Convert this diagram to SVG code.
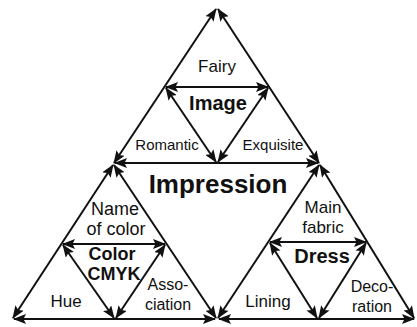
<svg xmlns="http://www.w3.org/2000/svg" width="417" height="327" viewBox="0 0 417 327">
<style>
.e{stroke:#111;stroke-width:2;fill:none;marker-start:url(#ah);marker-end:url(#ah)}
text{font-family:"Liberation Sans",Arial,sans-serif;fill:#111;text-anchor:middle}
.n{font-size:17px}
.l{font-size:18px}
.s{font-size:15px}
.m{font-size:16px}
.b{font-weight:bold;font-size:20px}
.c{font-weight:bold;font-size:18px}
.big{font-weight:bold;font-size:26px}
</style>
<defs>
<marker id="ah" viewBox="0 0 13 10" refX="12" refY="5" markerWidth="13" markerHeight="10" markerUnits="userSpaceOnUse" orient="auto-start-reverse">
<path d="M0,0 L13,5 L0,10 L2.5,5 z" fill="#111"/>
</marker>
</defs>
<rect width="417" height="327" fill="#fff"/>
<g id="connectors">
<line class="e" x1="216" y1="9" x2="114" y2="163"/>
<line class="e" x1="218" y1="9" x2="319" y2="163"/>
<line class="e" x1="115" y1="163" x2="318" y2="163"/>
<line class="e" x1="113" y1="165" x2="13" y2="318"/>
<line class="e" x1="114" y1="165" x2="216" y2="318"/>
<line class="e" x1="14" y1="319" x2="215" y2="319"/>
<line class="e" x1="319" y1="165" x2="218" y2="318"/>
<line class="e" x1="320" y1="165" x2="414" y2="318"/>
<line class="e" x1="219" y1="319" x2="414" y2="319"/>
<line class="e" x1="166" y1="87" x2="268" y2="87"/>
<line class="e" x1="166" y1="88" x2="216" y2="162"/>
<line class="e" x1="268" y1="88" x2="218" y2="162"/>
<line class="e" x1="63" y1="244" x2="165" y2="244"/>
<line class="e" x1="63" y1="245" x2="114" y2="318"/>
<line class="e" x1="165" y1="245" x2="116" y2="318"/>
<line class="e" x1="270" y1="242" x2="366" y2="242"/>
<line class="e" x1="270" y1="243" x2="317" y2="318"/>
<line class="e" x1="366" y1="243" x2="319" y2="318"/>
</g>
<g id="image">
<text class="n" x="217" y="72">Fairy</text>
<text class="b" x="218" y="110">Image</text>
<text class="s" x="167" y="150">Romantic</text>
<text class="s" x="273" y="150">Exquisite</text>
</g>
<g id="impression">
<text class="big" x="218" y="193">Impression</text>
</g>
<g id="color">
<text class="l" x="115" y="215">Name</text>
<text class="l" x="116" y="235">of color</text>
<text class="c" x="112" y="260">Color</text>
<text class="c" x="114" y="280">CMYK</text>
<text class="n" x="66" y="307">Hue</text>
<text class="m" x="168" y="290">Asso-</text>
<text class="m" x="168" y="310">ciation</text>
</g>
<g id="dress">
<text class="n" x="323" y="213">Main</text>
<text class="n" x="323" y="233">fabric</text>
<text class="b" x="322" y="263">Dress</text>
<text class="n" x="268" y="307">Lining</text>
<text class="m" x="372" y="292">Deco-</text>
<text class="m" x="372" y="312">ration</text>
</g>
</svg>
